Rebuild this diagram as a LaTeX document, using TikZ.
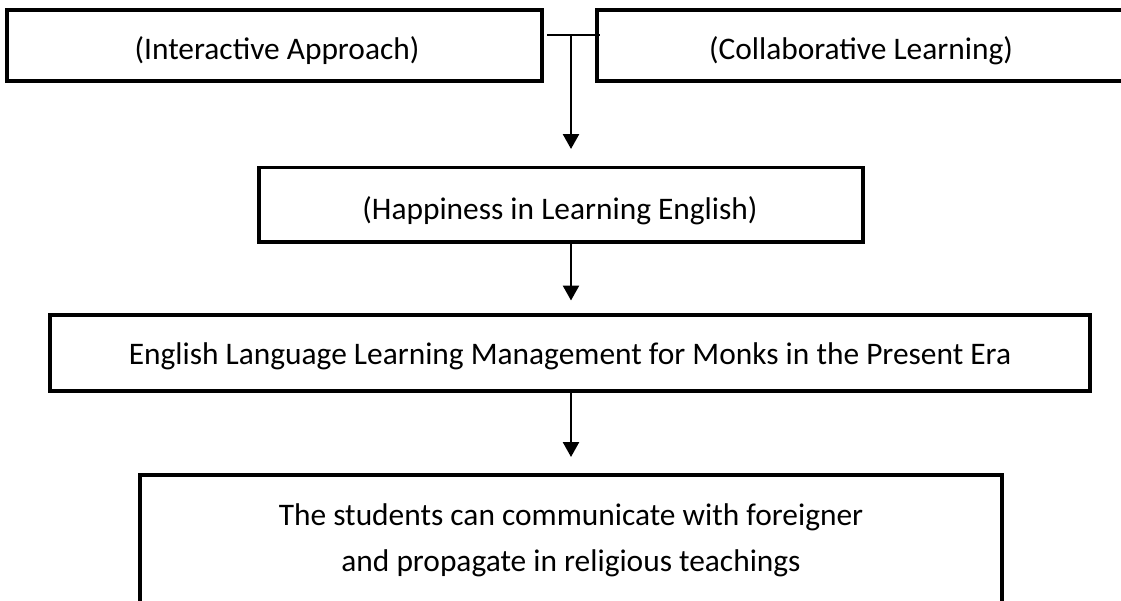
\documentclass[tikz,border=0pt]{standalone}
\usepackage{fontspec}
\setmainfont{Carlito}
\usetikzlibrary{arrows.meta,calc}
\begin{document}
\begin{tikzpicture}[x=1pt,y=-1pt,
  box/.style={draw,line width=3.6pt,rectangle,inner sep=0pt,outer sep=0pt},
  txt/.style={inner sep=0pt,outer sep=0pt,align=center,font=\fontsize{31.4}{46}\selectfont},
  conn/.style={line width=2.5pt},
  arr/.style={conn,-{Triangle[width=16pt,length=15pt]}}]
\useasboundingbox (0,0) rectangle (1121,600);
\clip (0,0) rectangle (1121,600);
% boxes
\node[box,minimum width=535pt,minimum height=71pt] (ia) at (274.5,45.5) {};
\node[box,minimum width=528pt,minimum height=71pt] (cl) at (861,45.5) {};
\node[box,minimum width=604pt,minimum height=74.5pt] (hp) at (561,204.75) {};
\node[box,minimum width=1040pt,minimum height=76pt] (en) at (570,353) {};
\node[box,minimum width=862pt,minimum height=130pt] (st) at (571,540) {};
% texts
\node[txt] (iat) at (277,51) {(Interactive Approach)};
\node[txt] (clt) at (861,51) {(Collaborative Learning)};
\node[txt] (hpt) at (560,211) {(Happiness in Learning English)};
\node[txt] (ent) at (570,356) {English Language Learning Management for Monks in the Present Era};
\node[txt] (stt) at (571,540) {The students can communicate with foreigner\\and propagate in religious teachings};
% connectors
\coordinate (j) at (571,35);
\draw[conn] ($(ia.north east)!0.35!(ia.south east)+(5,0)$) -- ($(cl.north west)!0.35!(cl.south west)+(3,0)$);
\draw[arr] (j) -- ($(j |- hp.north)+(0,-18.5)$);
\draw[arr] (hp.south -| j) -- ($(j |- en.north)+(0,-14.5)$);
\draw[arr] (en.south -| st.north) -- ($(st.north)+(0,-18)$);
\end{tikzpicture}
\end{document}
